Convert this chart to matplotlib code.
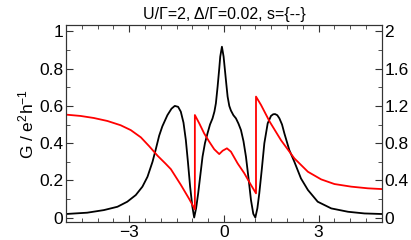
import matplotlib
matplotlib.use('Agg')
import matplotlib.pyplot as plt
from matplotlib.ticker import MultipleLocator, FormatStrFormatter

plt.rcParams['font.family'] = ['Liberation Sans', 'DejaVu Sans']
plt.rcParams['mathtext.fontset'] = 'custom'
plt.rcParams['mathtext.rm'] = 'Liberation Sans'
plt.rcParams['mathtext.it'] = 'Liberation Sans'
plt.rcParams['mathtext.default'] = 'regular'

# black curve: conductance G (left axis, 0..1)
g_x = [-5.0, -4.33, -3.8, -3.37, -3.06, -2.79, -2.58, -2.42, -2.26, -2.16,
       -2.05, -1.95, -1.79, -1.66, -1.556, -1.45, -1.365, -1.28, -1.206, -1.14,
       -1.07, -1.0, -0.942, -0.88, -0.815, -0.745, -0.677, -0.6, -0.52, -0.44,
       -0.36, -0.3, -0.254, -0.2, -0.148, -0.116, -0.063, -0.01, 0.032, 0.074,
       0.117, 0.17, 0.222, 0.3, 0.381, 0.46, 0.54, 0.62, 0.698, 0.78,
       0.857, 0.93, 0.995, 1.06, 1.12, 1.2, 1.28, 1.386, 1.49, 1.56,
       1.62, 1.69, 1.757, 1.84, 1.915, 2.07, 2.23, 2.44, 2.66, 2.97,
       3.4, 3.93, 4.45, 5.0]
g_y = [0.019, 0.026, 0.04, 0.058, 0.085, 0.121, 0.166, 0.219, 0.3, 0.365,
       0.44, 0.49, 0.55, 0.585, 0.6, 0.595, 0.569, 0.51, 0.417, 0.3,
       0.166, 0.06, 0.0, 0.05, 0.13, 0.23, 0.327, 0.4, 0.452, 0.5,
       0.533, 0.57, 0.614, 0.703, 0.8, 0.865, 0.918, 0.865, 0.793, 0.721,
       0.65, 0.6, 0.575, 0.55, 0.533, 0.505, 0.47, 0.41, 0.327, 0.21,
       0.094, 0.02, 0.0, 0.05, 0.13, 0.26, 0.399, 0.506, 0.546, 0.555,
       0.556, 0.55, 0.533, 0.5, 0.452, 0.363, 0.3, 0.21, 0.148, 0.085,
       0.049, 0.031, 0.022, 0.019]

# red curve: right axis (0..2)
r_x = [-5.0, -4.54, -4.12, -3.69, -3.27, -2.95, -2.63, -2.37, -2.1, -1.85,
       -1.68, -1.365, -1.1, -0.92, -0.92, -0.78, -0.625, -0.466, -0.307, -0.148,
       -0.04, 0.095, 0.222, 0.434, 0.645, 0.857, 1.016, 1.016, 1.175, 1.45,
       1.81, 2.23, 2.66, 3.08, 3.5, 4.03, 4.56, 5.0]
r_y = [1.106, 1.092, 1.07, 1.038, 0.992, 0.94, 0.862, 0.768, 0.664, 0.58,
       0.52, 0.352, 0.2, 0.088, 1.102, 1.012, 0.904, 0.816, 0.734, 0.682,
       0.718, 0.744, 0.708, 0.582, 0.476, 0.35, 0.26, 1.3, 1.21, 1.03,
       0.83, 0.636, 0.492, 0.41, 0.36, 0.332, 0.314, 0.306]

title = "U/\u0393=2, \u0394/\u0393=0.02, s={--}"

fig = plt.figure(figsize=(4.11, 2.4), dpi=100)
ax = fig.add_axes([0.1606, 0.075, 0.7684, 0.821])
ax2 = ax.twinx()

ax.plot(g_x, g_y, color='black', lw=1.3)
ax2.plot(r_x, r_y, color='red', lw=1.3)

ax.set_xlim(-5, 5)
ax.set_ylim(-0.024, 1.035)
ax2.set_ylim(-0.048, 2.07)

ax.xaxis.set_major_locator(MultipleLocator(3))
ax.xaxis.set_minor_locator(MultipleLocator(0.5))
ax.yaxis.set_major_locator(MultipleLocator(0.2))
ax.yaxis.set_minor_locator(MultipleLocator(0.1))
ax2.yaxis.set_major_locator(MultipleLocator(0.4))
ax2.yaxis.set_minor_locator(MultipleLocator(0.2))
ax.yaxis.set_major_formatter(FormatStrFormatter('%g'))
ax2.yaxis.set_major_formatter(FormatStrFormatter('%g'))

for a in (ax, ax2):
    a.tick_params(which='both', direction='in', labelsize=12.5, pad=2,
                  color='#333333')
    a.tick_params(which='major', length=5)
    a.tick_params(which='minor', length=3)
    for sp in a.spines.values():
        sp.set_color('#333333')
ax.tick_params(which='both', top=True)

ax.set_ylabel('G / e$^{2}$h$^{-1}$', fontsize=12.5, labelpad=2)
ax.set_title(title, fontsize=11.5, pad=4)

fig.savefig('out.png', dpi=100)
